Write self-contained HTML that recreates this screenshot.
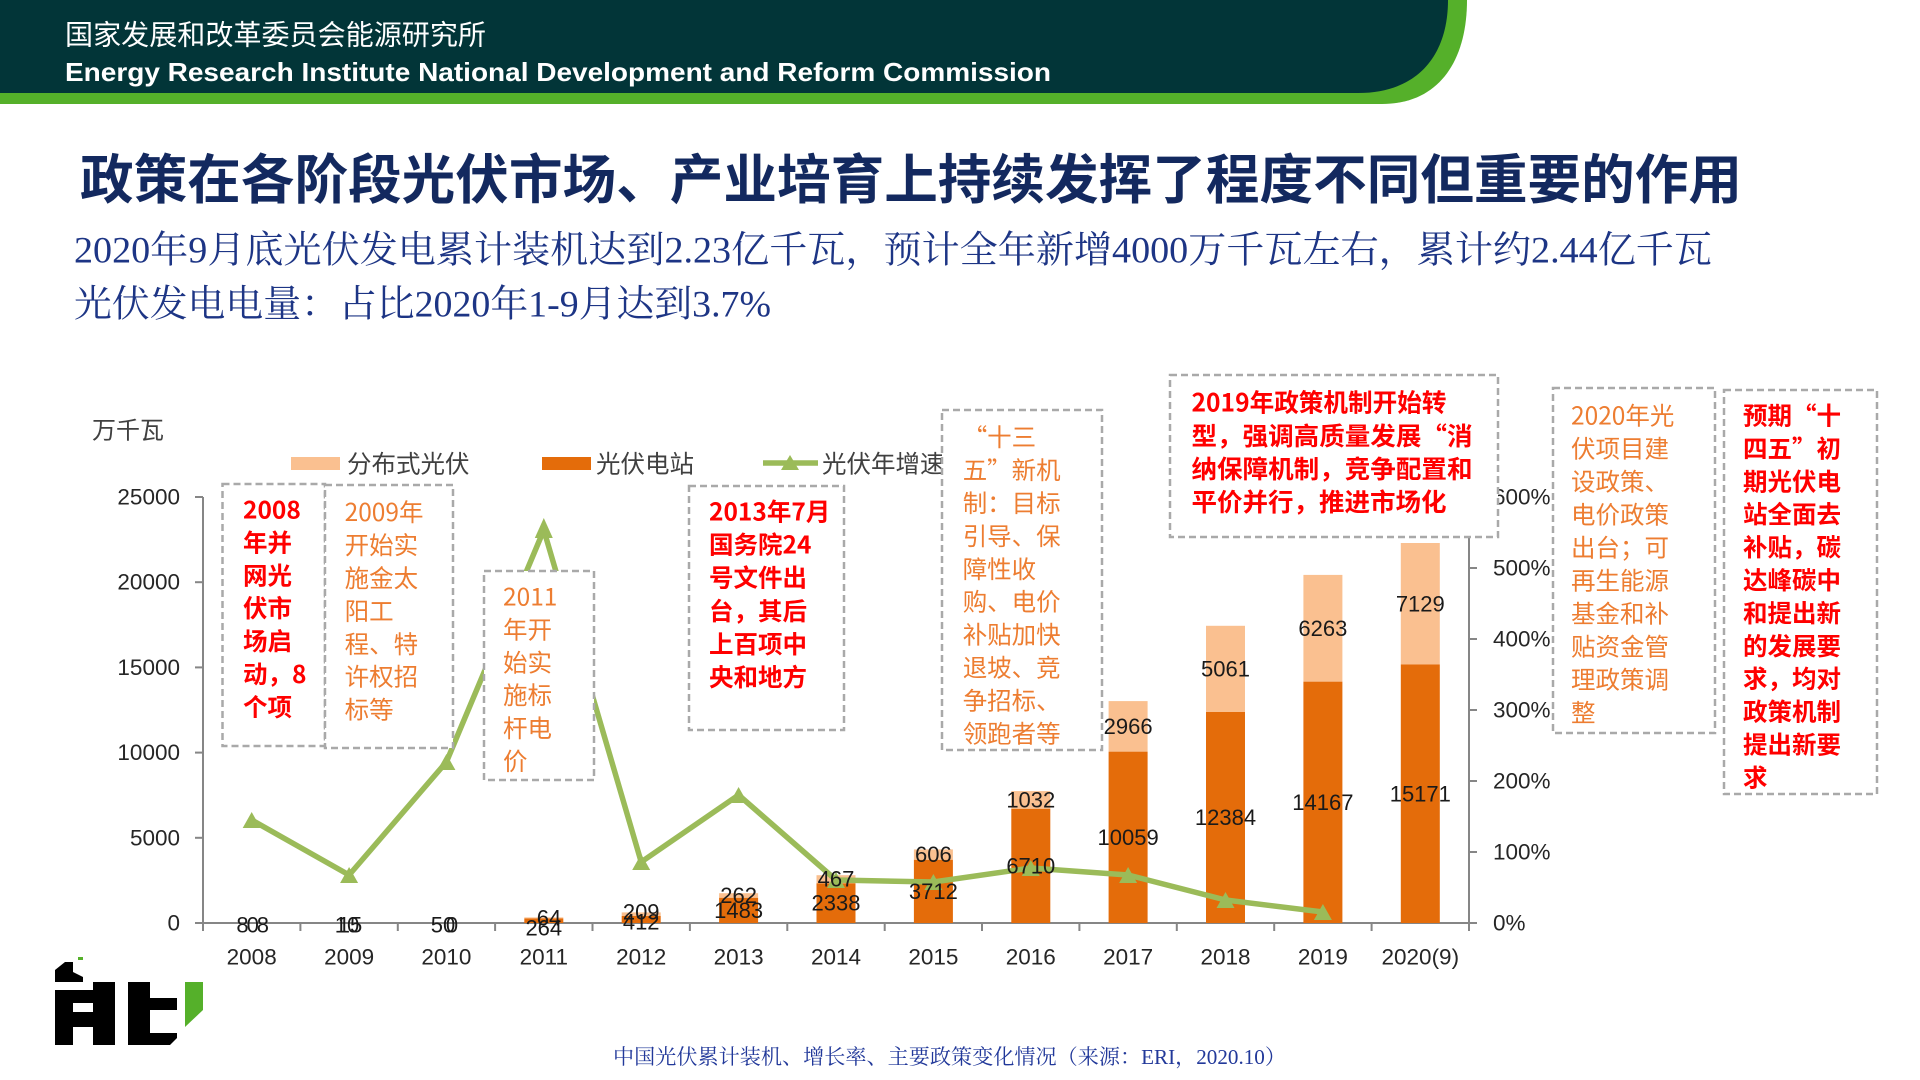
<!DOCTYPE html>
<html>
<head>
<meta charset="utf-8">
<style>
html,body{margin:0;padding:0;background:#fff;}
body{width:1920px;height:1080px;overflow:hidden;}
svg{display:block;}
.sans{font-family:"Liberation Sans","Noto Sans CJK SC",sans-serif;}
.cjk{font-family:"Noto Sans CJK SC","Liberation Sans",sans-serif;}
.serif{font-family:"Liberation Serif","Noto Serif CJK SC",serif;}
</style>
</head>
<body>
<svg width="1920" height="1080" viewBox="0 0 1920 1080" xmlns="http://www.w3.org/2000/svg">
<rect x="0" y="0" width="1920" height="1080" fill="#fff"/>

<!-- Header -->
<path d="M0 0 H1467 C1467 62 1438 104 1382 104 H0 Z" fill="#55b02a"/>
<path d="M0 0 H1448 C1448 55 1418 93 1358 93 H0 Z" fill="#023538"/>
<text class="sans" x="65" y="35" font-size="28" fill="#fff" dominant-baseline="central" textLength="421" lengthAdjust="spacingAndGlyphs">国家发展和改革委员会能源研究所</text>
<text class="sans" x="65" y="72" font-size="26" font-weight="bold" fill="#fff" dominant-baseline="central" textLength="986" lengthAdjust="spacingAndGlyphs">Energy Research Institute National Development and Reform Commission</text>

<!-- Title -->
<text class="cjk" x="80" y="176" font-size="53.5" font-weight="bold" fill="#13295f" dominant-baseline="central" textLength="1662" lengthAdjust="spacingAndGlyphs">政策在各阶段光伏市场、产业培育上持续发挥了程度不同但重要的作用</text>

<!-- Subtitles -->
<text class="serif" x="74" y="251" font-size="37.5" fill="#1d3585" dominant-baseline="central" textLength="1638" lengthAdjust="spacingAndGlyphs">2020年9月底光伏发电累计装机达到2.23亿千瓦，预计全年新增4000万千瓦左右，累计约2.44亿千瓦</text>
<text class="serif" x="74" y="305" font-size="37.5" fill="#1d3585" dominant-baseline="central" textLength="697" lengthAdjust="spacingAndGlyphs">光伏发电电量：占比2020年1-9月达到3.7%</text>

<!-- Unit label -->
<text class="cjk" x="92" y="428" font-size="24" fill="#404040" dominant-baseline="central">万千瓦</text>

<!-- Legend -->
<rect x="291" y="457" width="49" height="13" fill="#fac090"/>
<text class="cjk" x="347" y="463" font-size="24.5" fill="#404040" dominant-baseline="central">分布式光伏</text>
<rect x="542" y="457" width="49" height="13" fill="#e46c0a"/>
<text class="cjk" x="596" y="463" font-size="24.5" fill="#404040" dominant-baseline="central">光伏电站</text>
<line x1="763" y1="463" x2="818" y2="463" stroke="#9bbb59" stroke-width="5.5"/>
<polygon points="781,470 799,470 790,455" fill="#9bbb59"/>
<text class="cjk" x="822" y="463" font-size="24.5" fill="#404040" dominant-baseline="central">光伏年增速</text>

<!-- Axes -->
<g stroke="#868686" stroke-width="2" fill="none">
  <line x1="203" y1="497" x2="203" y2="924"/>
  <line x1="1469" y1="497" x2="1469" y2="924"/>
  <line x1="195" y1="923" x2="1477" y2="923"/>
  <line x1="195" y1="497" x2="203" y2="497"/>
  <line x1="195" y1="582.2" x2="203" y2="582.2"/>
  <line x1="195" y1="667.4" x2="203" y2="667.4"/>
  <line x1="195" y1="752.6" x2="203" y2="752.6"/>
  <line x1="195" y1="837.8" x2="203" y2="837.8"/>
  <line x1="1469" y1="497" x2="1477" y2="497"/>
  <line x1="1469" y1="568" x2="1477" y2="568"/>
  <line x1="1469" y1="639" x2="1477" y2="639"/>
  <line x1="1469" y1="710" x2="1477" y2="710"/>
  <line x1="1469" y1="781" x2="1477" y2="781"/>
  <line x1="1469" y1="852" x2="1477" y2="852"/>
  <line x1="203" y1="923" x2="203" y2="931"/>
  <line x1="300.4" y1="923" x2="300.4" y2="931"/>
  <line x1="397.8" y1="923" x2="397.8" y2="931"/>
  <line x1="495.1" y1="923" x2="495.1" y2="931"/>
  <line x1="592.5" y1="923" x2="592.5" y2="931"/>
  <line x1="689.9" y1="923" x2="689.9" y2="931"/>
  <line x1="787.3" y1="923" x2="787.3" y2="931"/>
  <line x1="884.7" y1="923" x2="884.7" y2="931"/>
  <line x1="982" y1="923" x2="982" y2="931"/>
  <line x1="1079.4" y1="923" x2="1079.4" y2="931"/>
  <line x1="1176.8" y1="923" x2="1176.8" y2="931"/>
  <line x1="1274.2" y1="923" x2="1274.2" y2="931"/>
  <line x1="1371.6" y1="923" x2="1371.6" y2="931"/>
  <line x1="1469" y1="923" x2="1469" y2="931"/>
</g>

<!-- Left axis labels -->
<g class="sans" font-size="22.5" fill="#262626" text-anchor="end" dominant-baseline="central">
  <text x="180" y="497">25000</text>
  <text x="180" y="582.2">20000</text>
  <text x="180" y="667.4">15000</text>
  <text x="180" y="752.6">10000</text>
  <text x="180" y="837.8">5000</text>
  <text x="180" y="923">0</text>
</g>
<!-- Right axis labels -->
<g class="sans" font-size="22.5" fill="#262626" dominant-baseline="central">
  <text x="1493" y="497">600%</text>
  <text x="1493" y="568">500%</text>
  <text x="1493" y="639">400%</text>
  <text x="1493" y="710">300%</text>
  <text x="1493" y="781">200%</text>
  <text x="1493" y="852">100%</text>
  <text x="1493" y="923">0%</text>
</g>
<!-- X labels -->
<g class="sans" font-size="22.5" fill="#262626" text-anchor="middle" dominant-baseline="central">
  <text x="251.7" y="957">2008</text>
  <text x="349.1" y="957">2009</text>
  <text x="446.4" y="957">2010</text>
  <text x="543.8" y="957">2011</text>
  <text x="641.2" y="957">2012</text>
  <text x="738.6" y="957">2013</text>
  <text x="836" y="957">2014</text>
  <text x="933.4" y="957">2015</text>
  <text x="1030.8" y="957">2016</text>
  <text x="1128.1" y="957">2017</text>
  <text x="1225.5" y="957">2018</text>
  <text x="1322.9" y="957">2019</text>
  <text x="1420.3" y="957">2020(9)</text>
</g>

<!-- Bars: station (dark) -->
<g fill="#e46c0a">
  <rect x="524.3" y="918.5" width="39" height="4.5"/>
  <rect x="621.7" y="916" width="39" height="7"/>
  <rect x="719.1" y="897.7" width="39" height="25.3"/>
  <rect x="816.5" y="883.2" width="39" height="39.8"/>
  <rect x="913.9" y="859.7" width="39" height="63.3"/>
  <rect x="1011.3" y="808.7" width="39" height="114.3"/>
  <rect x="1108.6" y="751.6" width="39" height="171.4"/>
  <rect x="1206" y="712" width="39" height="211"/>
  <rect x="1303.4" y="681.6" width="39" height="241.4"/>
  <rect x="1400.8" y="664.5" width="39" height="258.5"/>
</g>
<!-- Bars: distributed (light) -->
<g fill="#fac090">
  <rect x="524.3" y="917.4" width="39" height="1.1"/>
  <rect x="621.7" y="912.4" width="39" height="3.6"/>
  <rect x="719.1" y="893.2" width="39" height="4.5"/>
  <rect x="816.5" y="875.2" width="39" height="8"/>
  <rect x="913.9" y="849.4" width="39" height="10.3"/>
  <rect x="1011.3" y="791.1" width="39" height="17.6"/>
  <rect x="1108.6" y="701.1" width="39" height="50.5"/>
  <rect x="1206" y="625.8" width="39" height="86.2"/>
  <rect x="1303.4" y="574.9" width="39" height="106.7"/>
  <rect x="1400.8" y="543" width="39" height="121.5"/>
</g>

<!-- Growth line -->
<polyline fill="none" stroke="#9bbb59" stroke-width="5.5" stroke-linejoin="round" stroke-linecap="round"
  points="251.7,820 349.1,875 446.4,762 543.8,530 641.2,862 738.6,795 836,880 933.4,882 1030.8,868 1128.1,875 1225.5,900 1322.9,912"/>
<g fill="#9bbb59">
  <polygon points="242.7,828 260.7,828 251.7,812"/>
  <polygon points="340.1,883 358.1,883 349.1,867"/>
  <polygon points="437.4,770 455.4,770 446.4,754"/>
  <polygon points="534.8,538 552.8,538 543.8,518"/>
  <polygon points="632.2,870 650.2,870 641.2,854"/>
  <polygon points="729.6,803 747.6,803 738.6,787"/>
  <polygon points="827,888 845,888 836,872"/>
  <polygon points="924.4,890 942.4,890 933.4,874"/>
  <polygon points="1021.8,876 1039.8,876 1030.8,860"/>
  <polygon points="1119.1,883 1137.1,883 1128.1,867"/>
  <polygon points="1216.5,908 1234.5,908 1225.5,892"/>
  <polygon points="1313.9,920 1331.9,920 1322.9,904"/>
</g>

<!-- Data labels -->
<g class="sans" font-size="22" fill="#1a1a1a" text-anchor="middle" dominant-baseline="central">
  <text x="251.7" y="925" letter-spacing="-2">808</text>
  <text x="347" y="925">10</text>
  <text x="350" y="925">15</text>
  <text x="443" y="925">50</text>
  <text x="452" y="925">0</text>
  <text x="543.8" y="928">264</text>
  <text x="549" y="918">64</text>
  <text x="641.2" y="922">412</text>
  <text x="641.2" y="912">209</text>
  <text x="738.6" y="910.4">1483</text>
  <text x="738.6" y="895.5">262</text>
  <text x="836" y="903.1">2338</text>
  <text x="836" y="879.2">467</text>
  <text x="933.4" y="891.4">3712</text>
  <text x="933.4" y="854.6">606</text>
  <text x="1030.8" y="865.9">6710</text>
  <text x="1030.8" y="799.9">1032</text>
  <text x="1128.1" y="837.3">10059</text>
  <text x="1128.1" y="726.4">2966</text>
  <text x="1225.5" y="817.5">12384</text>
  <text x="1225.5" y="668.9">5061</text>
  <text x="1322.9" y="802.3">14167</text>
  <text x="1322.9" y="628.3">6263</text>
  <text x="1420.3" y="793.8">15171</text>
  <text x="1420.3" y="603.8">7129</text>
</g>

<!-- Annotation boxes -->
<g fill="#fff" stroke="#a9a9a9" stroke-width="2.5" stroke-dasharray="7 4">
  <rect x="222.5" y="484" width="102.5" height="262"/>
  <rect x="325" y="485" width="128" height="263"/>
  <rect x="484" y="571" width="110" height="209"/>
  <rect x="689" y="486" width="155" height="244"/>
  <rect x="942" y="410" width="160" height="340"/>
  <rect x="1170" y="375" width="328" height="162"/>
  <rect x="1553" y="388" width="162" height="345"/>
  <rect x="1724" y="390" width="153" height="404"/>
</g>

<!-- Box A -->
<g class="cjk" font-size="24.5" font-weight="bold" fill="#ff0000" dominant-baseline="central">
  <text x="243" y="509">2008</text>
  <text x="243" y="541.9">年并</text>
  <text x="243" y="574.8">网光</text>
  <text x="243" y="607.7">伏市</text>
  <text x="243" y="640.6">场启</text>
  <text x="243" y="673.5">动，8</text>
  <text x="243" y="706.4">个项</text>
</g>
<!-- Box B -->
<g class="cjk" font-size="24.5" fill="#ed7d31" dominant-baseline="central">
  <text x="344.6" y="511.7">2009年</text>
  <text x="344.6" y="544.6">开始实</text>
  <text x="344.6" y="577.5">施金太</text>
  <text x="344.6" y="610.4">阳工</text>
  <text x="344.6" y="643.3">程、特</text>
  <text x="344.6" y="676.2">许权招</text>
  <text x="344.6" y="709.1">标等</text>
</g>
<!-- Box C -->
<g class="cjk" font-size="24.5" fill="#ed7d31" dominant-baseline="central">
  <text x="503" y="596">2011</text>
  <text x="503" y="628.9">年开</text>
  <text x="503" y="661.8">始实</text>
  <text x="503" y="694.7">施标</text>
  <text x="503" y="727.6">杆电</text>
  <text x="503" y="760.5">价</text>
</g>
<!-- Box D -->
<g class="cjk" font-size="24.5" font-weight="bold" fill="#ff0000" dominant-baseline="central">
  <text x="709" y="511">2013年7月</text>
  <text x="709" y="544.1">国务院24</text>
  <text x="709" y="577.2">号文件出</text>
  <text x="709" y="610.3">台，其后</text>
  <text x="709" y="643.4">上百项中</text>
  <text x="709" y="676.5">央和地方</text>
</g>
<!-- Box E -->
<g class="cjk" font-size="24.5" fill="#ed7d31" dominant-baseline="central">
  <text x="962.7" y="436.7">“十三</text>
  <text x="962.7" y="469.6">五”新机</text>
  <text x="962.7" y="502.5">制：目标</text>
  <text x="962.7" y="535.4">引导、保</text>
  <text x="962.7" y="568.3">障性收</text>
  <text x="962.7" y="601.2">购、电价</text>
  <text x="962.7" y="634.1">补贴加快</text>
  <text x="962.7" y="667">退坡、竞</text>
  <text x="962.7" y="699.9">争招标、</text>
  <text x="962.7" y="732.8">领跑者等</text>
</g>
<!-- Box F -->
<g class="cjk" font-size="25" font-weight="bold" fill="#ff0000" dominant-baseline="central">
  <text x="1191.5" y="401.7" textLength="255" lengthAdjust="spacingAndGlyphs">2019年政策机制开始转</text>
  <text x="1191.5" y="434.8" textLength="281" lengthAdjust="spacingAndGlyphs">型，强调高质量发展“消</text>
  <text x="1191.5" y="467.9" textLength="281" lengthAdjust="spacingAndGlyphs">纳保障机制，竞争配置和</text>
  <text x="1191.5" y="501" textLength="255" lengthAdjust="spacingAndGlyphs">平价并行，推进市场化</text>
</g>
<!-- Box G -->
<g class="cjk" font-size="24.5" fill="#ed7d31" dominant-baseline="central">
  <text x="1571" y="415">2020年光</text>
  <text x="1571" y="448">伏项目建</text>
  <text x="1571" y="481">设政策、</text>
  <text x="1571" y="514">电价政策</text>
  <text x="1571" y="547">出台；可</text>
  <text x="1571" y="580">再生能源</text>
  <text x="1571" y="613">基金和补</text>
  <text x="1571" y="646">贴资金管</text>
  <text x="1571" y="679">理政策调</text>
  <text x="1571" y="712">整</text>
</g>
<!-- Box H -->
<g class="cjk" font-size="24.5" font-weight="bold" fill="#ff0000" dominant-baseline="central">
  <text x="1743" y="415">预期“十</text>
  <text x="1743" y="447.9">四五”初</text>
  <text x="1743" y="480.8">期光伏电</text>
  <text x="1743" y="513.7">站全面去</text>
  <text x="1743" y="546.6">补贴，碳</text>
  <text x="1743" y="579.5">达峰碳中</text>
  <text x="1743" y="612.4">和提出新</text>
  <text x="1743" y="645.3">的发展要</text>
  <text x="1743" y="678.2">求，均对</text>
  <text x="1743" y="711.1">政策机制</text>
  <text x="1743" y="744">提出新要</text>
  <text x="1743" y="776.9">求</text>
</g>

<!-- Logo -->
<g fill="#000">
  <polygon points="55,970 65,962 73,962 73,972 83,977 83,982 55,982"/>
  <rect x="55" y="990" width="60" height="13"/>
  <rect x="55" y="990" width="18" height="55"/>
  <rect x="73" y="1012" width="27" height="15"/>
  <rect x="93" y="982" width="22" height="63"/>
  <rect x="128" y="982" width="22" height="63"/>
  <rect x="150" y="998" width="27" height="12"/>
  <polygon points="150,1033 177,1033 177,1038 170,1045 150,1045"/>
</g>
<polygon points="185,982 203,982 203,1010 185,1027" fill="#55b02a"/>
<rect x="78" y="957" width="5" height="3" fill="#55b02a"/>

<!-- Caption -->
<text class="serif" x="613" y="1057" font-size="21" fill="#22399a" dominant-baseline="central" textLength="673" lengthAdjust="spacingAndGlyphs">中国光伏累计装机、增长率、主要政策变化情况（来源：ERI，2020.10）</text>
</svg>
</body>
</html>
